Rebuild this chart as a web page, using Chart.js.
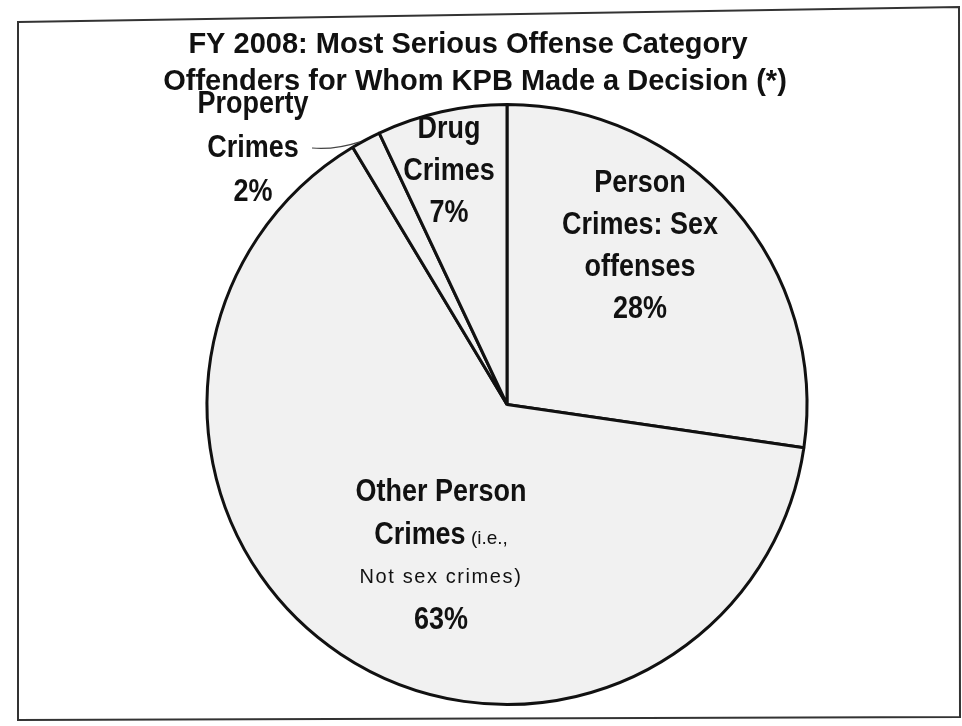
<!DOCTYPE html>
<html>
<head>
<meta charset="utf-8">
<script src="https://cdn.jsdelivr.net/npm/chart.js@4.4.1/dist/chart.umd.min.js"></script>
<style>
  html, body { margin: 0; padding: 0; background: #fff; }
  #wrap { width: 962px; height: 726px; }
</style>
</head>
<body>
<div id="wrap"><canvas id="grafico" width="962" height="726"></canvas></div>
<script>
// slices go clockwise from 12 o'clock
const categories = ['Person Crimes: Sex offenses', 'Other Person Crimes (i.e., Not sex crimes)', 'Property Crimes', 'Drug Crimes'];
const shares = [27.3, 64.1, 1.6, 7.0];
const percentLabels = ['28%', '63%', '2%', '7%'];

const titleLines = ['FY 2008: Most Serious Offense Category', 'Offenders for Whom KPB Made a Decision (*)'];

// text lines of each slice label, each line is a list of [text, style]
const labelLines = [
  [[['Person', 'b']], [['Crimes: Sex', 'b']], [['offenses', 'b']]],
  [[['Other Person', 'b']], [['Crimes', 'b'], [' (i.e.,', 's']], [['Not sex crimes)', 'r']]],
  [[['Property', 'b']], [['Crimes', 'b']]],
  [[['Drug', 'b']], [['Crimes', 'b']]]
];

// where the first line of each label sits, relative to pie centre
const labelSpots = [
  { dx: 133, dy: -221, gap: 42 },
  { dx: -66, dy: 88, gap: 42.5 },
  { dx: -254, dy: -300, gap: 44 },
  { dx: -58, dy: -275, gap: 42 }
];

const fonts = {
  b: { font: 'bold 31px "Liberation Sans", Arial, sans-serif', sx: 0.87, sp: '0px', dy: 0 },
  s: { font: '19px "Liberation Sans", Arial, sans-serif', sx: 1, sp: '0px', dy: 4 },
  r: { font: '20px "Liberation Sans", Arial, sans-serif', sx: 1, sp: '1.6px', dy: 0 }
};

function drawLine(ctx, runs, x, y) {
  let total = 0;
  runs.forEach(r => {
    const f = fonts[r[1]];
    ctx.font = f.font;
    ctx.letterSpacing = f.sp;
    total += ctx.measureText(r[0]).width * f.sx;
  });
  let cur = x - total / 2;
  runs.forEach(r => {
    const f = fonts[r[1]];
    ctx.save();
    ctx.font = f.font;
    ctx.letterSpacing = f.sp;
    const w = ctx.measureText(r[0]).width;
    ctx.translate(cur, y + f.dy);
    ctx.scale(f.sx, 1);
    ctx.textAlign = 'left';
    ctx.fillText(r[0], 0, 0);
    ctx.restore();
    cur += w * f.sx;
  });
}

const framePlugin = {
  id: 'frame',
  beforeDraw(chart) {
    const ctx = chart.ctx;
    ctx.save();
    ctx.fillStyle = '#fff';
    ctx.fillRect(0, 0, chart.width, chart.height);
    ctx.strokeStyle = '#333';
    ctx.lineWidth = 2;
    ctx.beginPath();
    ctx.moveTo(18, 22);
    ctx.lineTo(959, 7);
    ctx.lineTo(960, 717);
    ctx.lineTo(18, 720);
    ctx.closePath();
    ctx.stroke();
    ctx.restore();
  }
};

const textPlugin = {
  id: 'sliceText',
  afterDatasetsDraw(chart) {
    const ctx = chart.ctx;
    const arcs = chart.getDatasetMeta(0).data;
    const cx = arcs[0].x, cy = arcs[0].y;
    ctx.save();
    ctx.fillStyle = '#111';
    ctx.textBaseline = 'middle';

    // title
    ctx.save();
    ctx.font = 'bold 29px "Liberation Sans", Arial, sans-serif';
    ctx.textAlign = 'center';
    ctx.fillText(titleLines[0], 468, 45);
    ctx.fillText(titleLines[1], 475, 82);
    ctx.restore();

    labelLines.forEach((lines, i) => {
      const s = labelSpots[i];
      const all = lines.concat([[[percentLabels[i], 'b']]]);
      all.forEach((runs, k) => drawLine(ctx, runs, cx + s.dx, cy + s.dy + k * s.gap));
    });

    // leader from the property label to its slice
    const p = arcs[2];
    const mid = (p.startAngle + p.endAngle) / 2;
    const ex = cx + Math.cos(mid) * p.outerRadius - 6;
    const ey = cy + Math.sin(mid) * p.outerRadius + 2;
    ctx.strokeStyle = '#444';
    ctx.lineWidth = 1.2;
    ctx.beginPath();
    ctx.moveTo(312, 148);
    ctx.quadraticCurveTo(335, 150, ex, ey);
    ctx.stroke();
    ctx.restore();
  }
};

const ctx = document.getElementById('grafico').getContext('2d');
const myChart = new Chart(ctx, {
  type: 'pie',
  data: {
    labels: categories,
    datasets: [{
      data: shares,
      backgroundColor: '#f1f1f1',
      borderColor: '#111',
      borderWidth: 3
    }]
  },
  options: {
    responsive: false,
    animation: false,
    layout: { padding: { left: 205, right: 153, top: 103, bottom: 20 } },
    plugins: {
      legend: { display: false },
      tooltip: { enabled: false },
      title: { display: false }
    }
  },
  plugins: [framePlugin, textPlugin]
});
</script>
</body>
</html>
